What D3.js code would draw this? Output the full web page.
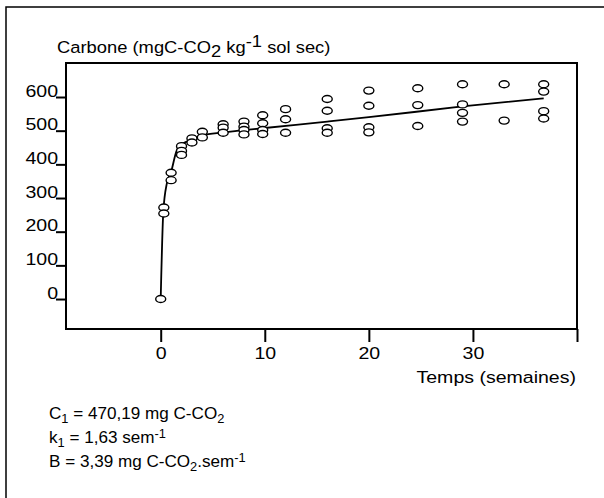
<!DOCTYPE html>
<html>
<head>
<meta charset="utf-8">
<script src="https://cdn.jsdelivr.net/npm/d3@7"></script>
<style>
body{margin:0;background:#fff}
svg{display:block;font-family:"Liberation Sans",Arial,sans-serif}
</style>
</head>
<body>
<svg id="chart" width="604" height="498"></svg>
<script>
// measured points: one array of values per sampling week
const weeks = [0, 0.3, 1, 2, 3, 4, 6, 8, 9.8, 12, 16, 20, 24.7, 29, 33, 36.8];
const carbone = [
  [0],
  [272, 254],
  [375, 353],
  [454, 440, 428],
  [477, 465],
  [497, 480],
  [519, 509, 494],
  [527, 512, 502, 489],
  [546, 522, 502, 490],
  [564, 534, 494],
  [594, 559, 507, 494],
  [619, 574, 510, 495],
  [626, 576, 514],
  [638, 578, 553, 527],
  [638, 530],
  [638, 616, 558, 536]
];
// fitted curve
const curveWeeks = [0, 0.25, 0.6, 1, 1.5, 1.8, 2.2, 3, 4, 6, 10, 16, 20, 29, 36.8];
const curveCarbone = [0, 259, 345, 378, 438, 455, 463, 474, 486, 495, 508, 527, 540, 572, 596];
const xTicks = [0, 10, 20, 30, 40];
const xLabels = ["0", "10", "20", "30", ""];
const yTicks = [0, 100, 200, 300, 400, 500, 600];

const sx = 1.15;   // text in the figure is slightly stretched
const fs = 17;

const svg = d3.select("#chart");
const box = {left: 66, top: 63, right: 577, bottom: 329};

const x = d3.scaleLinear().domain([-9.1, 40]).range([box.left, box.right]);
const y = d3.scaleLinear().domain([-89, 701]).range([box.bottom, box.top]);

// outer frame
svg.append("rect")
  .attr("x", 6).attr("y", 7).attr("width", 640).attr("height", 540)
  .attr("fill", "none").attr("stroke", "#000").attr("stroke-width", 1.5);

// y axis
const gy = svg.append("g")
  .attr("transform", "translate(" + box.left + ",0)")
  .call(d3.axisLeft(y).tickValues(yTicks).tickSize(10).tickSizeOuter(0));
gy.select(".domain").remove();
gy.selectAll("line").attr("stroke-width", 2);
gy.selectAll("text")
  .attr("x", null).attr("dy", null)
  .attr("transform", "translate(-8,-1) scale(" + sx + ",1)")
  .attr("text-anchor", "end")
  .style("font-size", fs + "px").attr("fill", "#000");

// x axis
const gx = svg.append("g")
  .attr("transform", "translate(0," + box.bottom + ")")
  .call(d3.axisBottom(x).tickValues(xTicks).tickFormat((d, i) => xLabels[i]).tickSize(13).tickSizeOuter(0));
gx.select(".domain").remove();
gx.selectAll("line").attr("stroke-width", 2);
gx.selectAll("text")
  .attr("y", null).attr("dy", null)
  .attr("transform", "translate(0,30) scale(" + sx + ",1)")
  .style("font-size", fs + "px").attr("fill", "#000");

// plot box
svg.append("rect")
  .attr("x", box.left).attr("y", box.top)
  .attr("width", box.right - box.left).attr("height", box.bottom - box.top)
  .attr("fill", "none").attr("stroke", "#000").attr("stroke-width", 2);

// fitted curve
const line = d3.line()
  .x((d, i) => x(curveWeeks[i]))
  .y(d => y(d))
  .curve(d3.curveMonotoneX);
svg.append("path")
  .datum(curveCarbone)
  .attr("d", line)
  .attr("fill", "none").attr("stroke", "#000").attr("stroke-width", 1.8);

// points
const pts = [];
weeks.forEach((w, i) => carbone[i].forEach(v => pts.push([w, v])));
svg.append("g").selectAll("ellipse")
  .data(pts)
  .join("ellipse")
  .attr("cx", d => x(d[0]))
  .attr("cy", d => y(d[1]))
  .attr("rx", 5).attr("ry", 3.5)
  .attr("fill", "#fff").attr("stroke", "#000").attr("stroke-width", 1.4);

// axis titles
const title = svg.append("text")
  .attr("transform", "translate(57,53) scale(1.08,1)")
  .style("font-size", fs + "px");
title.append("tspan").text("Carbone (mgC-CO");
title.append("tspan").attr("dy", 4).text("2");
title.append("tspan").attr("dy", -4).text(" kg");
title.append("tspan").attr("dy", -6).text("-1");
title.append("tspan").attr("dy", 6).text(" sol sec)");

svg.append("text")
  .attr("transform", "translate(576,383) scale(" + sx + ",1)")
  .attr("text-anchor", "end")
  .style("font-size", fs + "px")
  .text("Temps (semaines)");

// fit parameters
const notes = svg.append("g")
  .style("font-size", "16px");
function note(yy, parts) {
  const t = notes.append("text").attr("transform", "translate(49," + yy + ") scale(1.07,1)");
  parts.forEach(p => {
    const s = t.append("tspan").text(p[0]);
    if (p[1]) s.attr("dy", p[1]);
    if (p[2]) s.style("font-size", p[2] + "px");
  });
}
note(419, [["C"], ["1", 4, 12], [" = 470,19 mg C-CO", -4], ["2", 4, 12]]);
note(443, [["k"], ["1", 4, 12], [" = 1,63 sem", -4], ["-1", -5, 12]]);
note(467, [["B = 3,39 mg C-CO"], ["2", 4, 12], [".sem", -4], ["-1", -5, 12]]);
</script>
</body>
</html>
